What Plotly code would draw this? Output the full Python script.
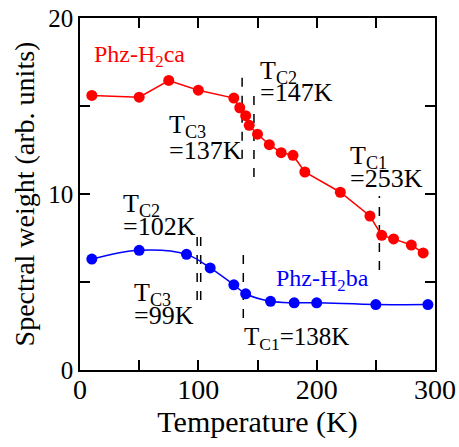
import plotly.graph_objects as go

# Phz-H2ca (red)
ca_T = [10, 50, 75, 100, 130, 135, 140, 143, 150, 160, 170, 180, 190, 220, 245, 255, 265, 280, 290]
ca_w = [15.6, 15.5, 16.45, 15.9, 15.45, 14.9, 14.45, 13.9, 13.4, 12.8, 12.35, 12.2, 11.25, 10.1, 8.75, 7.65, 7.45, 7.1, 6.65]

# Phz-H2ba (blue)
ba_T = [10, 50, 90, 110, 130, 140, 161, 181, 200, 250, 294]
ba_w = [6.3, 6.8, 6.57, 5.8, 4.84, 4.33, 3.9, 3.82, 3.82, 3.72, 3.72]

# transition markers: temperature, y-start, y-end
tc_T = [137, 147, 253, 99, 102, 138]
tc_y0 = [12.0, 10.97, 5.68, 3.98, 3.98, 2.95]
tc_y1 = [17.05, 16.02, 9.89, 7.95, 7.95, 6.99]

x_ticks = [0, 50, 100, 150, 200, 250, 300]
x_labels = ["0", "", "100", "", "200", "", "300"]
y_ticks = [0, 5, 10, 15, 20]
y_labels = ["0", "", "10", "", "20"]

FONT = "'Liberation Serif', 'Times New Roman', Times, serif"

fig = go.Figure()
for t, a, b in zip(tc_T, tc_y0, tc_y1):
    fig.add_trace(go.Scatter(x=[t, t], y=[a, b], mode="lines",
                             line=dict(color="black", width=1.5, dash="dash"),
                             showlegend=False, hoverinfo="skip"))

fig.add_trace(go.Scatter(x=ca_T, y=ca_w, mode="lines+markers",
                         line=dict(color="#ff0000", width=1.5),
                         marker=dict(color="#ff0000", size=11),
                         showlegend=False))
fig.add_trace(go.Scatter(x=ba_T, y=ba_w, mode="lines+markers",
                         line=dict(color="#0000ff", width=1.5, shape="spline", smoothing=1.0),
                         marker=dict(color="#0000ff", size=11),
                         showlegend=False))

ann = [
    ("Phz-H<sub>2</sub>ca", 11.8, 17.85, "#ff0000", 24),
    ("Phz-H<sub>2</sub>ba", 166, 5.1, "#0000ff", 24),
    ("T<sub>C2</sub>", 152, 16.95, "black", 26),
    ("=147K", 152, 15.74, "black", 26),
    ("T<sub>C3</sub>", 75, 13.85, "black", 26),
    ("=137K", 75, 12.5, "black", 26),
    ("T<sub>C1</sub>", 228, 12.1, "black", 26),
    ("=253K", 228, 10.9, "black", 26),
    ("T<sub>C2</sub>", 36, 9.35, "black", 26),
    ("=102K", 36, 8.13, "black", 26),
    ("T<sub>C3</sub>", 46, 4.3, "black", 26),
    ("=99K", 46, 3.12, "black", 26),
    ("T<sub>C1</sub>=138K", 139, 1.8, "black", 25),
]
for txt, x, y, c, s in ann:
    fig.add_annotation(x=x, y=y, text=txt, showarrow=False, xanchor="left", yanchor="middle",
                       font=dict(family=FONT, size=s, color=c), xshift=-2)

axis_common = dict(showline=True, linecolor="black", linewidth=1.5, mirror="ticks",
                   ticks="inside", ticklen=10, tickwidth=1.5, tickcolor="black",
                   showgrid=False, zeroline=False, automargin=False)
fig.update_xaxes(range=[0, 300], tickvals=x_ticks, ticktext=x_labels,
                 tickfont=dict(family=FONT, size=28, color="black"), ticklabelstandoff=-6,
                 title=dict(text="Temperature (K)", font=dict(family=FONT, size=30, color="black"), standoff=0),
                 **axis_common)
fig.update_yaxes(range=[0, 20], tickvals=y_ticks, ticktext=y_labels,
                 tickfont=dict(family=FONT, size=25, color="black"),
                 title=dict(text="Spectral weight (arb. units)", font=dict(family=FONT, size=28, color="black"), standoff=5),
                 **axis_common)

fig.update_layout(width=459, height=447, margin=dict(l=80, r=24, t=18, b=77),
                  paper_bgcolor="white", plot_bgcolor="white")
fig.write_html("out.html")
